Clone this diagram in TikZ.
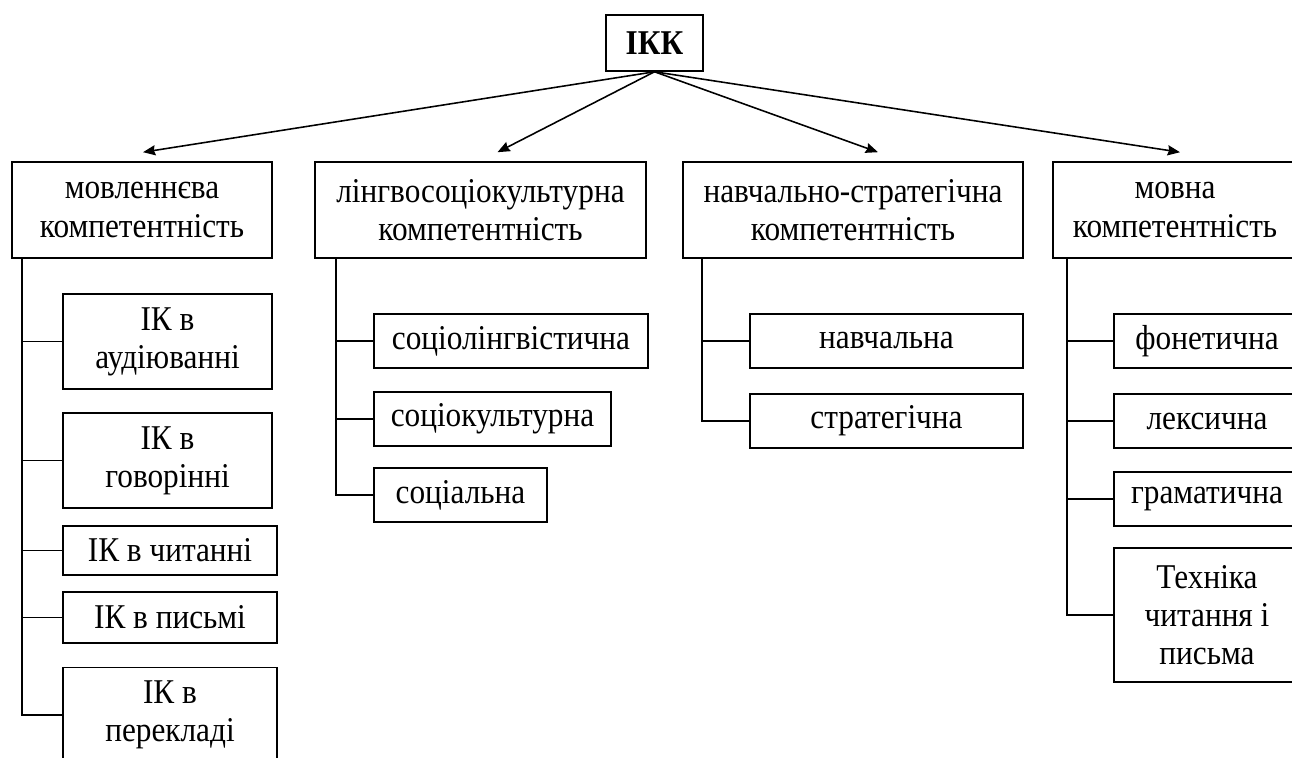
\documentclass[tikz,border=0pt]{standalone}
\usepackage{fontspec}
\setmainfont{Liberation Serif}[FakeStretch=0.9]
\usetikzlibrary{arrows.meta}
\newcommand{\pxu}{0.446pt}

\begin{document}
\begin{tikzpicture}[>={Stealth[length=5.5pt,width=4.5pt,inset=0.6pt]}, x=\pxu, y=-\pxu, line width=0.7pt]

\tikzset{%
every box/.style={
rectangle,
draw,
inner sep=0pt,
align=center,
font=\fontsize{15.5}{17}\selectfont
},
top box/.style={
font=\fontsize{15.5}{17}\selectfont\bfseries
},
}

\useasboundingbox (0,0) rectangle (1292,758);

% Top node
\node [every box, top box, minimum width=97*\pxu, minimum height=56*\pxu] (ikk) at (654.5,43) {ІКК};

% First level: the four competences
\foreach \m/\x/\w/\l in {1/142/260/{мовленнєва\\компетентність},
2/480.5/331/{лінгвосоціокультурна\\компетентність},
3/853/340/{навчально-стратегічна\\компетентність},
4/1175/244/{мовна\\компетентність}}
\node [every box, minimum width=\w*\pxu, minimum height=96*\pxu] (comp-\m) at (\x,210) {\l};

% Arrows from the top node
\foreach \i/\dx in {1/1, 2/17, 3/25, 4/5}
\draw [->] (ikk.south) -- ([shift={(\dx,-9)}]comp-\i.north);

% Start of the vertical lines under each competence
\foreach \i/\dx in {1/11, 2/22, 3/20, 4/15}
\coordinate (trunk-\i) at ([shift={(\dx,0)}]comp-\i.south west);

% Speech competence boxes
\foreach \x/\y/\w/\h/\l [count=\k] in {167.5/341.5/209/95/{ІК в\\аудіюванні},
167.5/460.5/209/95/{ІК в\\говорінні},
170/550.5/214/49/{ІК в читанні},
170/617.5/214/51/{ІК в письмі},
170/715/214/95/{ІК в\\перекладі}}
\node [every box, minimum width=\w*\pxu, minimum height=\h*\pxu] (speech-\k) at (\x,\y) {\l};

% Sociocultural competence boxes
\foreach \x/\y/\w/\l [count=\k] in {511/341/274/соціолінгвістична,
492.5/419/237/соціокультурна,
460.5/495/173/соціальна}
\node [every box, minimum width=\w*\pxu, minimum height=54*\pxu] (socio-\k) at (\x,\y) {\l};

% Study-strategic competence boxes
\foreach \y/\l [count=\k] in {341/навчальна, 421/стратегічна}
\node [every box, minimum width=273*\pxu, minimum height=54*\pxu] (study-\k) at (886.5,\y) {\l};

% Language competence boxes
\foreach \y/\h/\l [count=\k] in {341/54/фонетична, 421/54/лексична, 499/54/граматична,
615/134/{Техніка\\читання і\\письма}}
\node [every box, minimum width=186*\pxu, minimum height=\h*\pxu] (lang-\k) at (1207,\y) {\l};

% Vertical lines and branches
\draw (trunk-1) |- (speech-5.west);
\foreach \k in {1,...,4}
\draw (trunk-1 |- speech-\k.west) -- (speech-\k.west);

\draw (trunk-2) |- (socio-3.west);
\foreach \k in {1,2}
\draw (trunk-2 |- socio-\k.west) -- (socio-\k.west);

\draw (trunk-3) |- (study-2.west);
\draw (trunk-3 |- study-1.west) -- (study-1.west);

\draw (trunk-4) |- (lang-4.west);
\foreach \k in {1,...,3}
\draw (trunk-4 |- lang-\k.west) -- (lang-\k.west);

\end{tikzpicture}
\end{document}
